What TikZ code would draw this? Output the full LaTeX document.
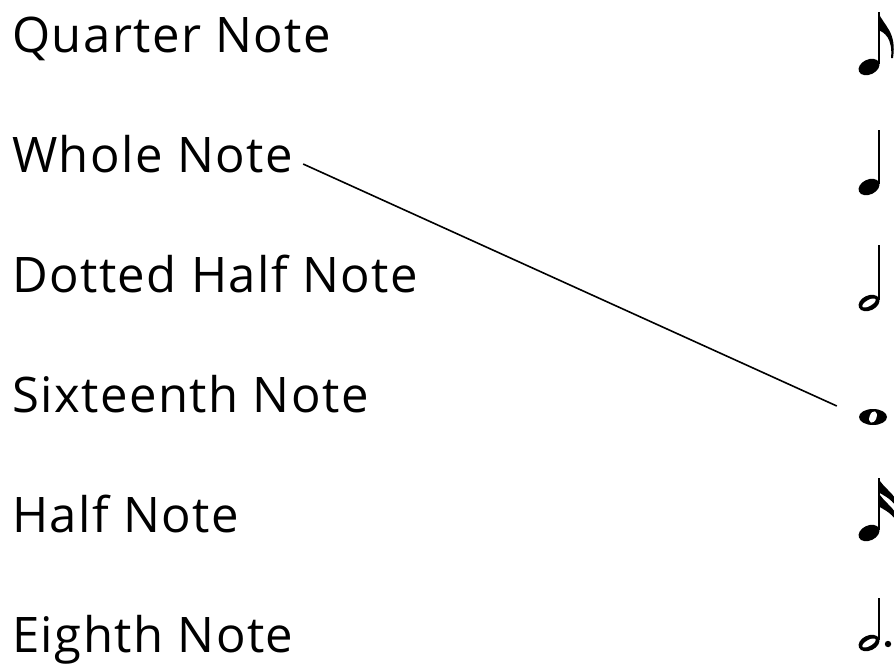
\documentclass[tikz,border=0pt]{standalone}
\usepackage{fontspec}
\setmainfont{Open Sans}[LetterSpace=3]
\usetikzlibrary{shapes.geometric}

\tikzset{
  notename/.style={anchor=base west, inner sep=0pt, font=\fontsize{49}{52}\selectfont},
  head/.style={ellipse, fill=black, inner sep=0pt, minimum width=22pt, minimum height=15pt, rotate=25},
  hole/.style={ellipse, fill=white, inner sep=0pt, minimum width=15pt, minimum height=6pt, rotate=30},
  stem/.style={line width=2pt},
  matchline/.style={line width=1.6pt},
}

\begin{document}
\begin{tikzpicture}[x=1pt,y=-1pt]
\useasboundingbox (0,0) rectangle (894,667);
\clip (0,0) rectangle (894,667);

% names on the left
\node[notename] (lquarter) at (12,52) {Quarter Note};
\node[notename] (lwhole) at (12,172) {Whole Note};
\node[notename] (ldotted) at (12,292) {Dotted Half Note};
\node[notename] (lsixteenth) at (12,412) {Sixteenth Note};
\node[notename] (lhalf) at (12,532) {Half Note};
\node[notename] (leighth) at (12,652) {Eighth Note};

% eighth note
\node[head] (neighth) at (869,67) {};
\draw[stem] (879,64) -- (879,12);
\fill (878,12) .. controls (884,26) and (897,32) .. (893,58) -- (891,58)
  .. controls (893,38) and (884,32) .. (878,30) -- cycle;

% quarter note
\node[head] (nquarter) at (869,187) {};
\draw[stem] (879,184) -- (879,130);

% half note
\node[head] (nhalf) at (869,303) {};
\node[hole] at (869,303) {};
\draw[stem] (879,300) -- (879,245);

% whole note
\node[ellipse, fill=black, inner sep=0pt, minimum width=28pt, minimum height=16pt] (nwhole) at (873,417) {};
\node[ellipse, fill=white, inner sep=0pt, minimum width=7pt, minimum height=12pt, rotate=-20] at (873,417) {};

% sixteenth note
\node[head] (nsixteenth) at (869,533) {};
\draw[stem] (879,530) -- (879,478);
\fill (878,478) .. controls (884,488) and (892,492) .. (896,500) -- (896,506)
  .. controls (890,498) and (883,495) .. (878,492) -- cycle;
\fill (878,492) .. controls (884,502) and (892,506) .. (896,514) -- (896,520)
  .. controls (890,512) and (883,509) .. (878,506) -- cycle;

% dotted half note
\node[head] (ndotted) at (869,643) {};
\node[hole] at (869,643) {};
\draw[stem] (879,640) -- (879,598);
\fill (888,644) circle (3.2);

% answer line
\draw[matchline] ([xshift=10pt,yshift=8pt]lwhole.base east) -- ([xshift=-22pt,yshift=11pt]nwhole.west);
\end{tikzpicture}
\end{document}
